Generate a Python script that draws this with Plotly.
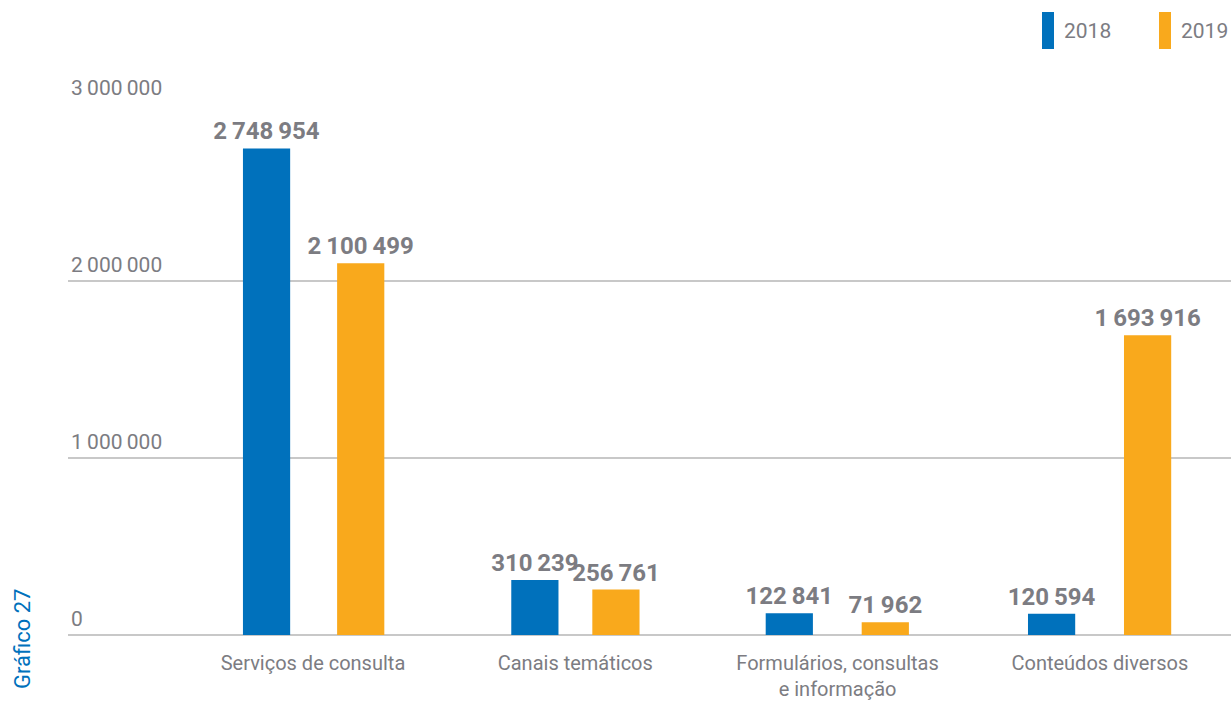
import plotly.graph_objects as go

# Categories and yearly values
categories = [
    "Serviços de consulta",
    "Canais temáticos",
    "Formulários, consultas<br>e informação",
    "Conteúdos diversos",
]
values_2018 = [2748954, 310239, 122841, 120594]
values_2019 = [2100499, 256761, 71962, 1693916]
years = ["2018", "2019"]
y_ticks = [0, 1000000, 2000000, 3000000]

BLUE = "#0071bc"
ORANGE = "#f9a91c"
GRAY_TEXT = "#7c7c82"
GRID = "#c8c8c8"
FONT = "Roboto"
THIN = "\u2009"  # thin space used as thousands separator


def fmt(v):
    return f"{v:,}".replace(",", THIN)


# per-bar placement inside each category band (category units)
bar_w = 0.18
off_2018 = [-0.267, -0.244, -0.274, -0.274]
off_2019 = [0.092, 0.065, 0.092, 0.092]

fig = go.Figure()
for name, vals, color, offs in [
    (years[0], values_2018, BLUE, off_2018),
    (years[1], values_2019, ORANGE, off_2019),
]:
    fig.add_trace(go.Bar(
        name=name,
        x=categories,
        y=vals,
        width=[bar_w] * len(vals),
        offset=offs,
        marker=dict(color=color, line=dict(width=0)),
        text=[fmt(v) for v in vals],
        textposition="outside",
        constraintext="none",
        cliponaxis=False,
        textfont=dict(family=FONT, size=24, color=GRAY_TEXT, weight="bold"),
        showlegend=False,
    ))

fig.update_layout(
    width=1231,
    height=702,
    margin=dict(l=68, r=0, t=104, b=67),
    paper_bgcolor="white",
    plot_bgcolor="white",
    separators="," + THIN,
    barmode="group",
    font=dict(family=FONT, color=GRAY_TEXT),
    xaxis=dict(
        type="category",
        range=[-0.934, 3.5],
        showgrid=False,
        showline=False,
        zeroline=False,
        ticks="",
        tickfont=dict(family=FONT, size=20, color=GRAY_TEXT),
        ticklabelstandoff=14,
        automargin=False,
    ),
    yaxis=dict(
        range=[0, 3000000],
        tickvals=y_ticks,
        tickformat=",d",
        showgrid=True,
        gridcolor=GRID,
        gridwidth=2,
        zeroline=True,
        zerolinecolor=GRID,
        zerolinewidth=2,
        showline=False,
        ticks="",
        ticklabelposition="inside top",
        ticklabeloverflow="allow",
        ticklabelshift=-2,
        tickfont=dict(family=FONT, size=21, color=GRAY_TEXT),
        automargin=False,
    ),
)

# legend: tall colour swatch followed by the year
legend_items = [(years[0], BLUE, 1042), (years[1], ORANGE, 1159)]
for label, color, px in legend_items:
    fig.add_shape(
        type="rect", xref="paper", yref="paper",
        x0=(px - 68) / 1163, x1=(px + 12 - 68) / 1163,
        y0=(635 - 49) / 531, y1=(635 - 12) / 531,
        fillcolor=color, line=dict(width=0), layer="above",
    )
    fig.add_annotation(
        text=label, xref="paper", yref="paper",
        x=(px + 20 - 68) / 1163, y=(635 - 31) / 531,
        xanchor="left", yanchor="middle", showarrow=False,
        font=dict(family=FONT, size=21, color=GRAY_TEXT),
    )

# chart number, rotated along the left edge
fig.add_annotation(
    text="Gráfico 27", xref="paper", yref="paper",
    x=0, y=0, xshift=-46, yshift=-4,
    xanchor="center", yanchor="middle", textangle=-90, showarrow=False,
    font=dict(family=FONT, size=22, color=BLUE),
)

fig.write_html("out.html")
